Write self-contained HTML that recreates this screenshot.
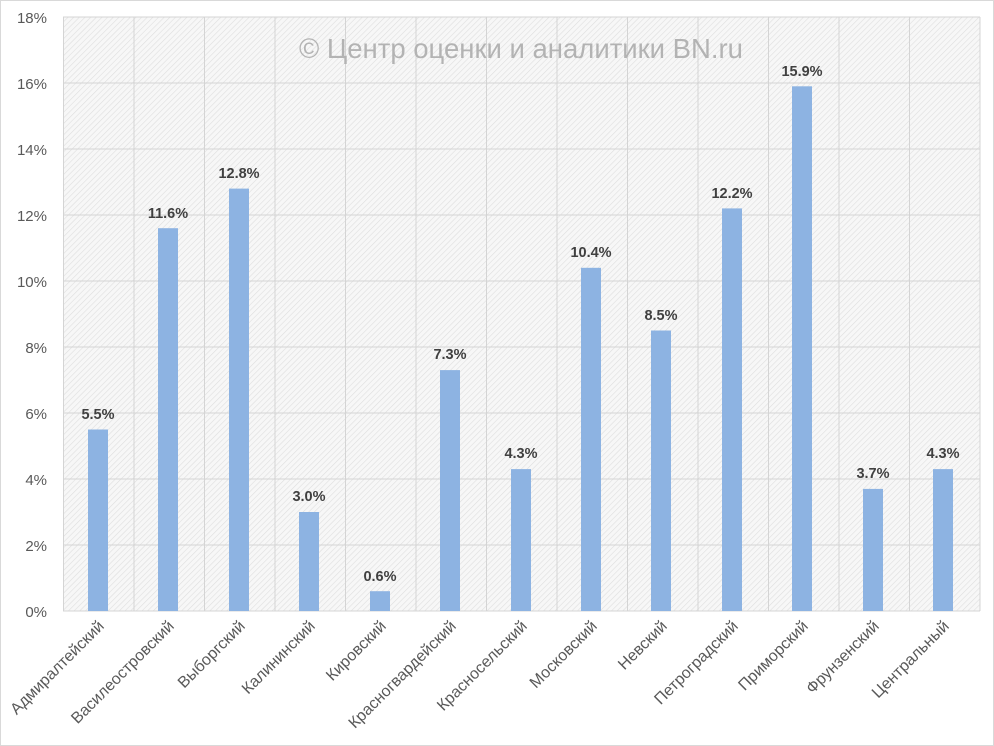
<!DOCTYPE html>
<html><head><meta charset="utf-8"><style>
body{margin:0;background:#fff;}
svg{display:block;font-family:"Liberation Sans","DejaVu Sans",sans-serif;}
</style></head><body>
<svg width="994" height="746" viewBox="0 0 994 746" xmlns="http://www.w3.org/2000/svg">
<defs>
<pattern id="h" width="4" height="4" patternUnits="userSpaceOnUse" patternTransform="rotate(45)">
<rect width="4" height="4" fill="#f7f7f7"/>
<line x1="0" y1="0" x2="0" y2="4" stroke="#dedede" stroke-width="1.2"/>
</pattern>
</defs>
<rect x="0.5" y="0.5" width="993" height="745" fill="#fff" stroke="#d9d9d9"/>
<rect x="63" y="17" width="917" height="594" fill="url(#h)"/>
<g stroke="#d4d4d4" stroke-width="1">
<line x1="63" y1="17" x2="980" y2="17"/>
<line x1="63" y1="83" x2="980" y2="83"/>
<line x1="63" y1="149" x2="980" y2="149"/>
<line x1="63" y1="215" x2="980" y2="215"/>
<line x1="63" y1="281" x2="980" y2="281"/>
<line x1="63" y1="347" x2="980" y2="347"/>
<line x1="63" y1="413" x2="980" y2="413"/>
<line x1="63" y1="479" x2="980" y2="479"/>
<line x1="63" y1="545" x2="980" y2="545"/>
<line x1="63" y1="611" x2="980" y2="611"/>
<line x1="63.5" y1="17" x2="63.5" y2="611"/>
<line x1="134" y1="17" x2="134" y2="611"/>
<line x1="204.5" y1="17" x2="204.5" y2="611"/>
<line x1="275" y1="17" x2="275" y2="611"/>
<line x1="345.5" y1="17" x2="345.5" y2="611"/>
<line x1="416" y1="17" x2="416" y2="611"/>
<line x1="486.5" y1="17" x2="486.5" y2="611"/>
<line x1="557" y1="17" x2="557" y2="611"/>
<line x1="627.5" y1="17" x2="627.5" y2="611"/>
<line x1="698" y1="17" x2="698" y2="611"/>
<line x1="768.5" y1="17" x2="768.5" y2="611"/>
<line x1="839" y1="17" x2="839" y2="611"/>
<line x1="909.5" y1="17" x2="909.5" y2="611"/>
<line x1="980" y1="17" x2="980" y2="611"/>
</g>
<text x="521" y="58" font-size="27.5" fill="#b3b3b3" text-anchor="middle">© Центр оценки и аналитики BN.ru</text>
<g font-size="15" fill="#595959" text-anchor="end">
<text x="47" y="23">18%</text>
<text x="47" y="89">16%</text>
<text x="47" y="155">14%</text>
<text x="47" y="221">12%</text>
<text x="47" y="287">10%</text>
<text x="47" y="353">8%</text>
<text x="47" y="419">6%</text>
<text x="47" y="485">4%</text>
<text x="47" y="551">2%</text>
<text x="47" y="617">0%</text>
</g>
<g fill="#8db3e2">
<rect x="88" y="429.5" width="20" height="181.5"/>
<rect x="158" y="228.2" width="20" height="382.8"/>
<rect x="229" y="188.6" width="20" height="422.4"/>
<rect x="299" y="512" width="20" height="99"/>
<rect x="370" y="591.2" width="20" height="19.8"/>
<rect x="440" y="370.1" width="20" height="240.9"/>
<rect x="511" y="469.1" width="20" height="141.9"/>
<rect x="581" y="267.8" width="20" height="343.2"/>
<rect x="651" y="330.5" width="20" height="280.5"/>
<rect x="722" y="208.4" width="20" height="402.6"/>
<rect x="792" y="86.3" width="20" height="524.7"/>
<rect x="863" y="488.9" width="20" height="122.1"/>
<rect x="933" y="469.1" width="20" height="141.9"/>
</g>
<g font-size="14.5" font-weight="bold" fill="#404040" text-anchor="middle">
<text x="98" y="419">5.5%</text>
<text x="168" y="218">11.6%</text>
<text x="239" y="178">12.8%</text>
<text x="309" y="501">3.0%</text>
<text x="380" y="581">0.6%</text>
<text x="450" y="359">7.3%</text>
<text x="521" y="458">4.3%</text>
<text x="591" y="257">10.4%</text>
<text x="661" y="320">8.5%</text>
<text x="732" y="198">12.2%</text>
<text x="802" y="76">15.9%</text>
<text x="873" y="478">3.7%</text>
<text x="943" y="458">4.3%</text>
</g>
<g font-size="16" fill="#595959" text-anchor="end">
<text transform="translate(105,627) rotate(-45)">Адмиралтейский</text>
<text transform="translate(175,627) rotate(-45)">Василеостровский</text>
<text transform="translate(246,627) rotate(-45)">Выборгский</text>
<text transform="translate(316,627) rotate(-45)">Калининский</text>
<text transform="translate(387,627) rotate(-45)">Кировский</text>
<text transform="translate(457,627) rotate(-45)">Красногвардейский</text>
<text transform="translate(528,627) rotate(-45)">Красносельский</text>
<text transform="translate(598,627) rotate(-45)">Московский</text>
<text transform="translate(668,627) rotate(-45)">Невский</text>
<text transform="translate(739,627) rotate(-45)">Петроградский</text>
<text transform="translate(809,627) rotate(-45)">Приморский</text>
<text transform="translate(880,627) rotate(-45)">Фрунзенский</text>
<text transform="translate(950,627) rotate(-45)">Центральный</text>
</g>
</svg>
</body></html>
